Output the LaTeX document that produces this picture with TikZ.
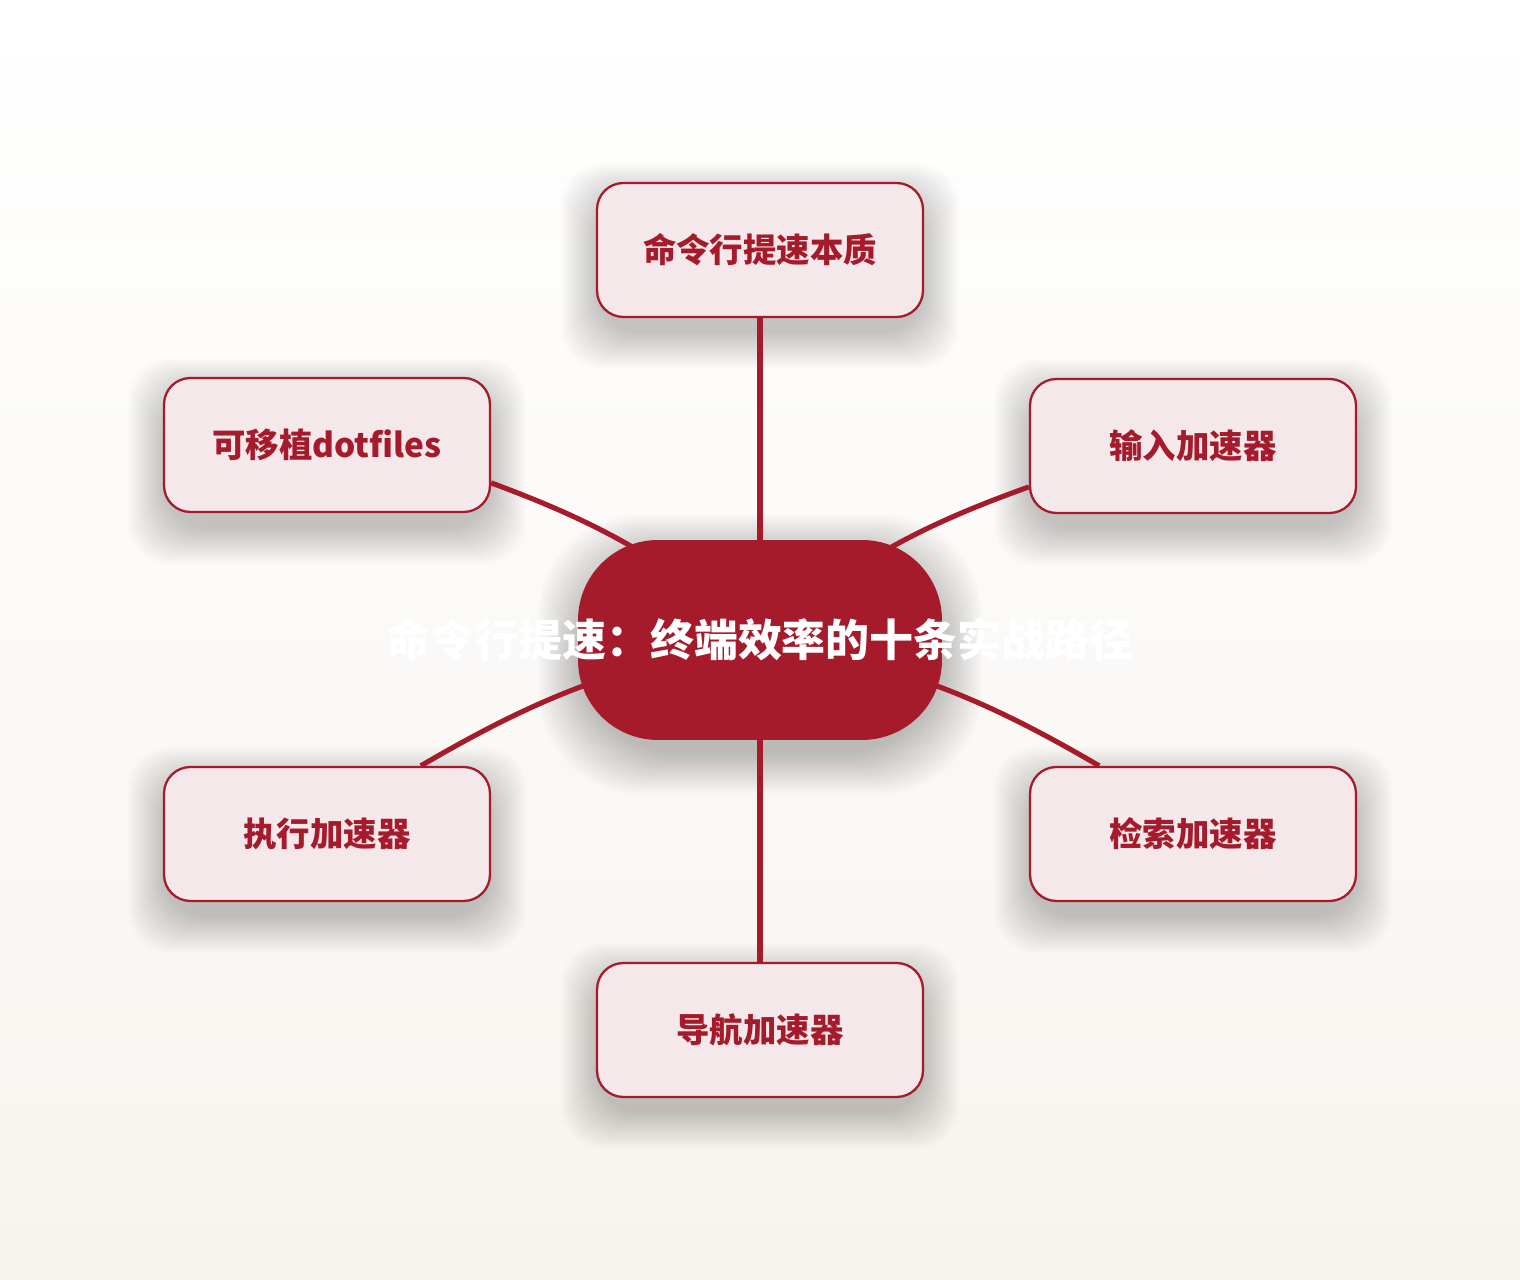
\documentclass[tikz,border=0pt]{standalone}
\usepackage{fontspec}
\setmainfont{Noto Sans CJK SC}
\definecolor{crimson}{HTML}{A51B2B}
\definecolor{blush}{HTML}{F5E8EB}
\definecolor{paper}{HTML}{F7F4EF}
\pgfdeclarelayer{bg}
\pgfdeclarelayer{shade}
\pgfdeclarelayer{back}
\pgfsetlayers{bg,shade,back,main}
\tikzset{
  topic/.style={draw=crimson, line width=1.3pt, fill=blush, rounded corners=15pt,
    minimum width=6.52cm, minimum height=2.68cm, text=crimson,
    font=\bfseries\fontsize{19}{22}\selectfont},
  hubshape/.style={fill=crimson, rounded corners=1.6cm, minimum width=7.28cm, minimum height=4cm},
  hubtitle/.style={text=white, font=\bfseries\fontsize{25}{30}\selectfont},
  link/.style={draw=crimson, line width=2.9pt},
  haze/.style={fill=black, opacity=0.011}
}
\begin{document}
\begin{tikzpicture}[x=0.02cm,y=0.02cm]
  \begin{pgfonlayer}{bg}
    \shade[top color=white, bottom color=paper] (0,0) rectangle (1520,1280);
  \end{pgfonlayer}
  % centre
  \node[hubshape] (hub) at (760,640) {};
  \node[hubtitle] (title) at (hub) {命令行提速：终端效率的十条实战路径};
  % topics
  \node[topic] (essence) at (760,1030) {命令行提速本质};
  \node[topic] (input) at (1193,834) {输入加速器};
  \node[topic] (search) at (1193,446) {检索加速器};
  \node[topic] (navig) at (760,250) {导航加速器};
  \node[topic] (exec) at (327,446) {执行加速器};
  \node[topic] (dotfiles) at (327,835) {可移植dotfiles};
  % soft shadows
  \begin{pgfonlayer}{shade}
    \foreach \n in {essence,input,search,navig,exec,dotfiles}
      \foreach \k in {0,2,...,36}
        \fill[haze, rounded corners=24pt]
          ([shift={(-163-\k,-67-\k-16)}]\n.center) rectangle ([shift={(163+\k,67+\k-16)}]\n.center);
    \foreach \k in {0,2,...,40}
      \fill[haze, rounded corners=58pt]
        ([shift={(-182-\k,-100-\k-14)}]hub.center) rectangle ([shift={(182+\k,100+\k-14)}]hub.center);
  \end{pgfonlayer}
  % links
  \begin{pgfonlayer}{back}
    \draw[link] (hub.center) -- (essence);
    \draw[link] (hub.center) -- (navig);
    \draw[link] (hub.center) to[bend left=10] (input.194);
    \draw[link] (hub.center) to[bend left=10] (search.144);
    \draw[link] (hub.center) to[bend right=10] (exec.36);
    \draw[link] (hub.center) to[bend right=10] (dotfiles.-13.5);
  \end{pgfonlayer}
\end{tikzpicture}
\end{document}
